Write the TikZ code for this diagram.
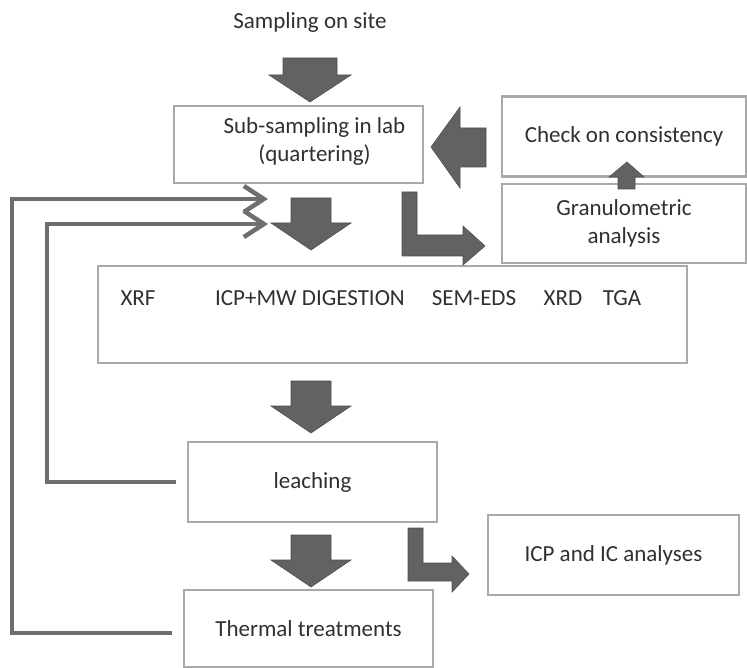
\documentclass[tikz,border=0pt]{standalone}
\usepackage{fontspec}
\setmainfont{Carlito}
\usetikzlibrary{arrows.meta}
\definecolor{boxgray}{HTML}{A9A9A9}
\definecolor{blkgray}{HTML}{626262}
\definecolor{linegray}{HTML}{6E6E6E}
\definecolor{txtgray}{HTML}{303030}

\begin{document}
\begin{tikzpicture}[x=1pt,y=-1pt,
        every node/.style={font=\fontsize{23}{28}\selectfont, text=txtgray},
        box/.style={draw=boxgray, line width=2.2pt, fill=white, inner sep=0pt},
        blk/.style={fill=blkgray, draw=blkgray!80!black, line width=0.6pt},
        loopline/.style={draw=linegray, line width=4.5pt, -{Straight Barb[length=20pt,width=26pt]}}]
    \useasboundingbox (0,0) rectangle (747,668);

    % boxes
    \node (samp) at (310,22) {Sampling on site};
    \node[box, minimum width=249pt, minimum height=77pt,
        label={[xshift=16pt, yshift=3pt, align=center]center:Sub-sampling in lab\\(quartering)}] (sub) at (298.5,144.5) {};
    \node[box, minimum width=244pt, minimum height=80pt] (check) at (624,136.5) {Check on consistency};
    \node[box, minimum width=244pt, minimum height=79pt, align=center] (gran) at (624,223.5) {Granulometric\\analysis};
    \node[box, minimum width=589pt, minimum height=97pt] (big) at (392.5,314.5) {};
    \node[box, minimum width=249pt, minimum height=80pt] (leach) at (312.5,482) {leaching};
    \node[box, minimum width=251pt, minimum height=80pt] (icp) at (613.5,555) {ICP and IC analyses};
    \node[box, minimum width=249pt, minimum height=77pt] (therm) at (308.5,628.5) {Thermal treatments};

    % methods
    \foreach \x/\name in {138/XRF, 310/ICP+MW DIGESTION, 474/SEM-EDS, 563/XRD, 622/TGA} {
            \node (m\x) at (\x,298) {\name};
        }

    % block arrows
    \draw[blk] (283,58) -- (337,58) -- (337,75) -- (351,75) -- (310,102) -- (269,75) -- (283,75) -- cycle;
    \foreach \yt in {198, 381, 535} {
            \draw[blk] (291,\yt) -- (331,\yt) -- (331,\yt+25) -- (351,\yt+25) -- (311,\yt+52)
                -- (271,\yt+25) -- (291,\yt+25) -- cycle;
        }
    \draw[blk] (486,128) -- (486,167) -- (460,167) -- (460,188) -- (431,147) -- (460,107) -- (460,128) -- cycle;
    \draw[blk] (618,189) -- (635,189) -- (635,177) -- (644,177) -- (627,162) -- (609,177) -- (618,177) -- cycle;
    \draw[blk] (402,192) -- (417,192) -- (417,235) -- (463,235) -- (463,226) -- (485,246)
        -- (463,265) -- (463,256) -- (402,256) -- cycle;
    \draw[blk] (408,528) -- (423,528) -- (423,563) -- (452,563) -- (452,556) -- (469,574)
        -- (452,592) -- (452,581) -- (408,581) -- cycle;

    % loops back
    \coordinate (c1) at (12,199);
    \coordinate (c2) at (47,224);
    \coordinate (fb1) at (268,199);
    \coordinate (fb2) at (268,224);
    \draw[loopline] ([xshift=-11pt,yshift=-4.5pt]therm.west) -| (c1) -- (fb1);
    \draw[loopline] ([xshift=-11pt]leach.west) -| (c2) -- (fb2);
\end{tikzpicture}
\end{document}
